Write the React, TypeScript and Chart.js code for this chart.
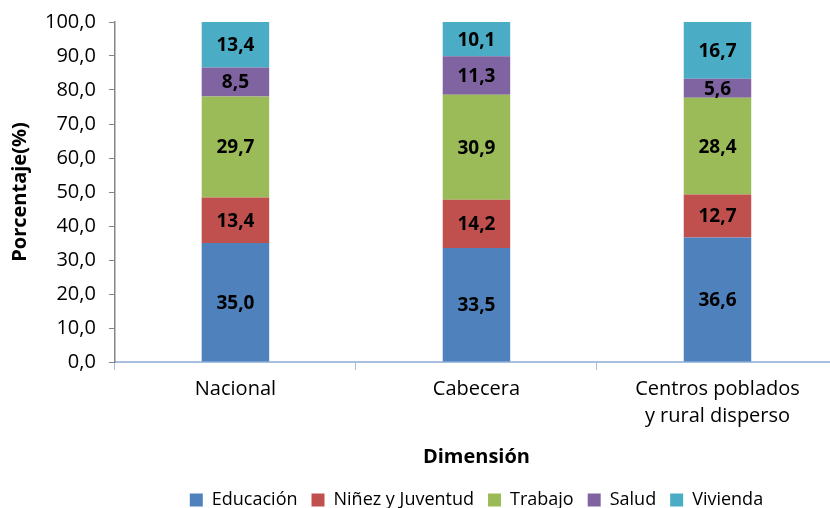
import React, { useEffect, useRef } from "react";
import { Chart, registerables } from "chart.js";

Chart.register(...registerables);

const categories: (string | string[])[] = ["Nacional", "Cabecera", ["Centros poblados", "y rural disperso"]];
const seriesNames = ["Educación", "Niñez y Juventud", "Trabajo", "Salud", "Vivienda"];
const educacion = [35.0, 33.5, 36.6];
const ninez = [13.4, 14.2, 12.7];
const trabajo = [29.7, 30.9, 28.4];
const salud = [8.5, 11.3, 5.6];
const vivienda = [13.4, 10.1, 16.7];
const colors = ["#4F81BD", "#C0504D", "#9BBB59", "#8064A2", "#4BACC6"];

const FONT = "'Open Sans', 'Noto Sans', sans-serif";
const fmt = (v: number) => v.toFixed(1).replace(".", ",");

const labelPlugin = {
  id: "segLabels",
  afterDatasetsDraw(chart: any) {
    const ctx = chart.ctx;
    ctx.save();
    ctx.font = `bold 19px ${FONT}`;
    ctx.fillStyle = "#000";
    ctx.textAlign = "center";
    ctx.textBaseline = "middle";
    chart.data.datasets.forEach((ds: any, i: number) => {
      const meta = chart.getDatasetMeta(i);
      meta.data.forEach((bar: any, j: number) => {
        const { x, y, base } = bar.getProps(["x", "y", "base"], true);
        ctx.fillText(fmt(ds.data[j]), x, (y + base) / 2 + 1);
      });
    });
    ctx.restore();
  },
};

export default function App() {
  const ref = useRef<HTMLCanvasElement>(null);
  useEffect(() => {
    const all = [educacion, ninez, trabajo, salud, vivienda];
    const chart = new Chart(ref.current!, {
      type: "bar",
      data: {
        labels: categories,
        datasets: all.map((d, i) => ({
          label: seriesNames[i],
          data: d,
          backgroundColor: colors[i],
          borderWidth: 0,
          categoryPercentage: 1,
          barPercentage: 0.28,
        })),
      },
      options: {
        animation: false,
        responsive: false,
        maintainAspectRatio: false,
        layout: { padding: { top: -1, left: 8, right: 0, bottom: -11 } },
        plugins: {
          legend: {
            position: "bottom",
            fullSize: false,
            labels: {
              boxWidth: 13,
              boxHeight: 13,
              padding: 14,
              color: "#000",
              font: { family: FONT, size: 18 },
            },
          },
          tooltip: { enabled: false },
        },
        scales: {
          x: {
            stacked: true,
            grid: {
              display: true,
              offset: true,
              drawOnChartArea: false,
              tickLength: 8,
              color: "#A7BFE0",
            },
            border: { color: "#A7BFE0", width: 2 },
            ticks: {
              color: "#000",
              font: { family: FONT, size: 20, lineHeight: 1.35 },
              padding: 6,
            },
            title: {
              display: true,
              text: "Dimensión",
              color: "#000",
              font: { family: FONT, size: 20, weight: "bold" },
              padding: { top: 9, bottom: 8 },
            },
          },
          y: {
            stacked: true,
            min: 0,
            max: 100,
            ticks: {
              stepSize: 10,
              color: "#000",
              font: { family: FONT, size: 20, lineHeight: 0.9 },
              padding: 13,
              callback: (v: any) => fmt(Number(v)),
            },
            grid: {
              display: true,
              drawOnChartArea: false,
              tickLength: 6,
              color: "#868686",
            },
            border: { color: "#868686", width: 1.5 },
            title: {
              display: true,
              text: "Porcentaje(%)",
              color: "#000",
              font: { family: FONT, size: 20, weight: "bold" },
              padding: { top: 0, bottom: 0 },
            },
          },
        },
      },
      plugins: [labelPlugin],
    });
    return () => chart.destroy();
  }, []);
  return (
    <div style={{ position: "fixed", left: 0, top: 0, width: 830, height: 508, overflow: "hidden", background: "#fff" }}>
      <canvas ref={ref} width={838} height={508} style={{ width: 838, height: 508 }} />
    </div>
  );
}
